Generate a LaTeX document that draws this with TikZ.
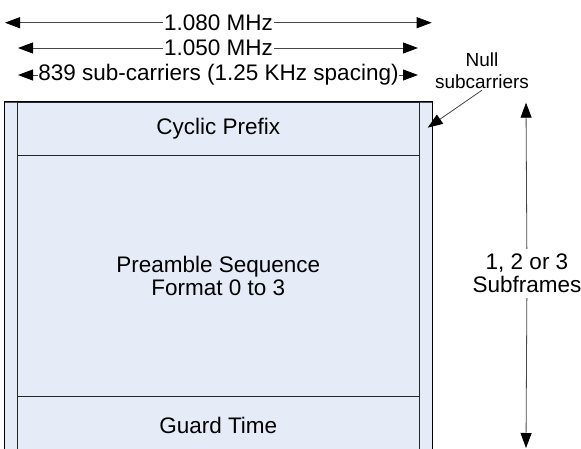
\documentclass[tikz,border=0pt]{standalone}
\usepackage{fontspec}
\setmainfont{Liberation Sans}
\usetikzlibrary{arrows.meta}
\definecolor{secfill}{RGB}{230,236,247}
\definecolor{linegray}{RGB}{70,70,70}
\begin{document}
\begin{tikzpicture}[x=1pt,y=1pt,
  sec/.style={draw=black!85, line width=1pt, fill=secfill, inner sep=0pt, font=\fontsize{22.5}{23}\selectfont, align=center},
  strip/.style={draw=black!70, line width=1pt, fill=secfill, inner sep=0pt},
  lbl/.style={inner sep=1pt, font=\fontsize{22.5}{23}\selectfont, align=center},
  arr/.style={draw=linegray, line width=0.8pt, -{Triangle[length=15pt,width=11pt,color=black]}},
]
\useasboundingbox (0,0) rectangle (581,-448);
% frame sections
\node[strip, minimum width=13pt, minimum height=353pt] (ls) at (11,-278.5) {};
\node[strip, minimum width=13.3pt, minimum height=353pt] (rs) at (425.65,-278.5) {};
\node[sec, minimum width=401.5pt, minimum height=53.5pt] (cp) at (218.25,-128.75) {Cyclic Prefix};
\node[sec, minimum width=401.5pt, minimum height=240.5pt] (pre) at (218.25,-275.75) {Preamble Sequence\\Format 0 to 3};
\node[sec, minimum width=401.5pt, minimum height=59pt] (gt) at (218.25,-425.5) {Guard Time};
\draw[black, line width=1pt] (ls.south west) |- (rs.north east) -- (rs.south east);
% bandwidth arrows
\node[lbl] (b1) at (218.5,-22.7) {1.080 MHz};
\coordinate (b1l) at (5,-22.7);
\coordinate (b1r) at (431.7,-22.7);
\draw[arr] (b1) -- (b1l);
\draw[arr] (b1) -- (b1r);
\node[lbl] (b2) at (218.5,-48) {1.050 MHz};
\coordinate (b2l) at (18,-48);
\coordinate (b2r) at (418,-48);
\draw[arr] (b2) -- (b2l);
\draw[arr] (b2) -- (b2r);
\node[lbl, inner sep=0.5pt] (b3) at (218.5,-75) {839 sub-carriers (1.25 KHz spacing)};
\coordinate (b3l) at (18,-75);
\coordinate (b3r) at (418,-75);
\draw[arr] (b3) -- (b3l);
\draw[arr] (b3) -- (b3r);
% null subcarriers
\node[inner sep=1pt, font=\fontsize{19}{22}\selectfont, align=center] (nul) at (482,-71) {Null\\subcarriers};
\coordinate (nt) at (427.7,-127.7);
\draw[arr] (nul.south) -- (nt);
% subframes
\node[lbl, fill=white, inner sep=5pt] (sf) at (527,-273.5) {1, 2 or 3\\Subframes};
\coordinate (st) at (526,-102.7);
\coordinate (sb) at (526,-448);
\draw[arr] (sf) -- (st);
\draw[arr] (sf) -- (sb);
\end{tikzpicture}
\end{document}
